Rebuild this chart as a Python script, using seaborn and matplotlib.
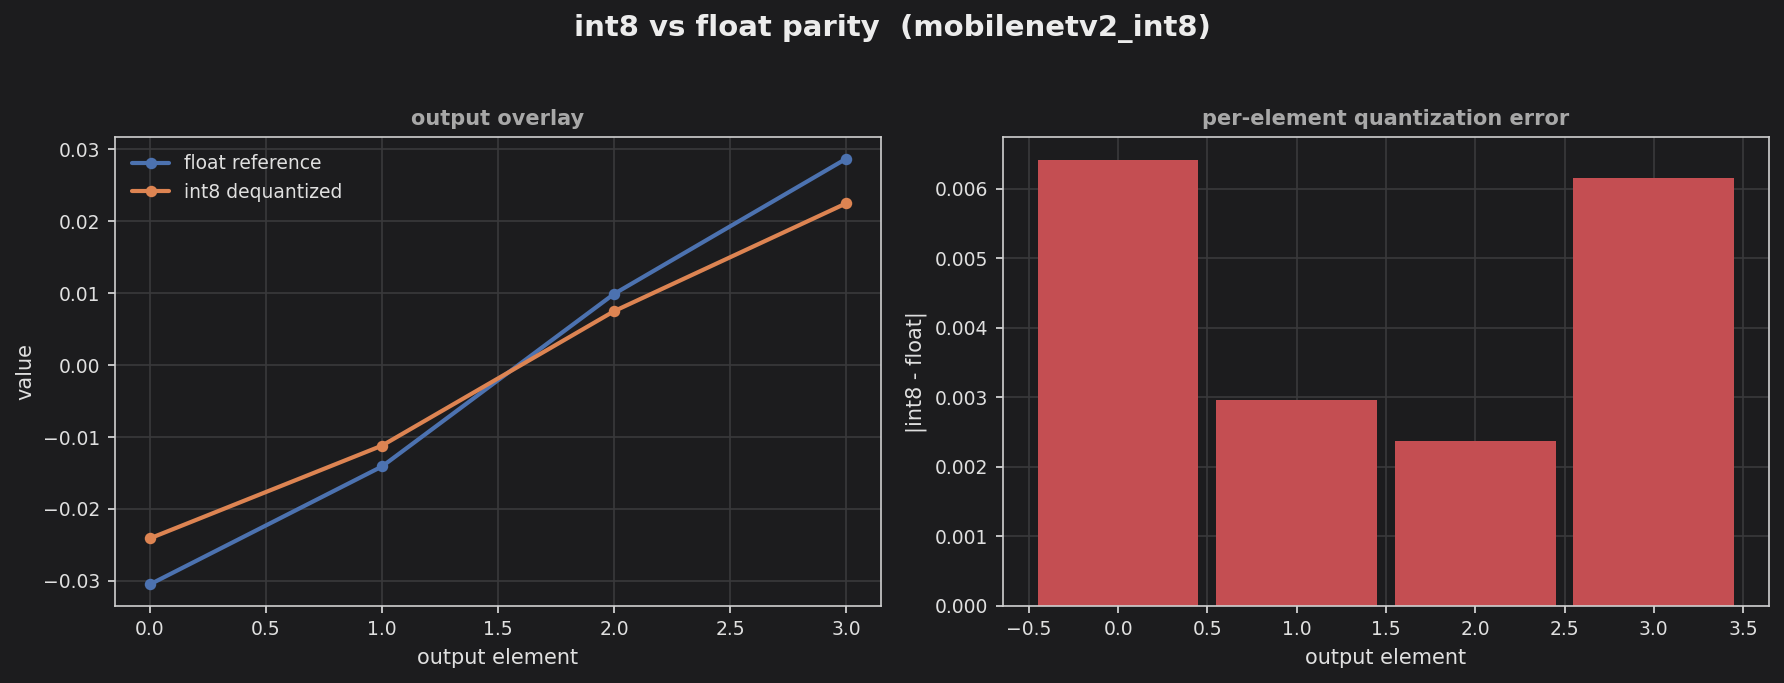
import numpy as np
import pandas as pd
import matplotlib
matplotlib.use("Agg")
import matplotlib.pyplot as plt
import seaborn as sns

elements = [0, 1, 2, 3]
float_ref = [-0.0305, -0.0141, 0.0099, 0.0287]
int8_deq = [-0.0241, -0.0112, 0.0075, 0.0225]
abs_err = [0.00642, 0.00296, 0.00237, 0.00616]

BG = "#1c1c1e"
FG = "#e0e0e0"
GRID = "#3a3a3c"
DPI = 150

sns.set_theme(style="darkgrid")
plt.rcParams.update({
    "figure.facecolor": BG,
    "axes.facecolor": BG,
    "axes.edgecolor": "#d0d0d0",
    "axes.labelcolor": FG,
    "xtick.color": FG,
    "ytick.color": FG,
    "text.color": FG,
    "grid.color": GRID,
    "grid.linewidth": 0.8,
    "axes.grid": True,
    "xtick.bottom": True,
    "ytick.left": True,
    "axes.linewidth": 0.8,
    "font.size": 9,
})
plt.rcParams['font.family'] = ['DejaVu Sans']

fig = plt.figure(figsize=(1784 / DPI, 683 / DPI), dpi=DPI)
ax1 = fig.add_axes([0.0645, 0.1132, 0.4293, 0.6855])
ax2 = fig.add_axes([0.5622, 0.1132, 0.4294, 0.6855])

df = pd.DataFrame({
    "element": elements * 2,
    "value": float_ref + int8_deq,
    "series": ["float reference"] * 4 + ["int8 dequantized"] * 4,
})
sns.lineplot(data=df, x="element", y="value", hue="series",
             palette=["#4c72b0", "#dd8452"], marker="o", markersize=5.5,
             markeredgewidth=0, linewidth=2.0, ax=ax1)
ax1.set_title("output overlay", color="#a8a8a8", fontweight="bold", fontsize=10)
ax1.set_xlabel("output element", fontsize=10)
ax1.set_ylabel("value", fontsize=10)
ax1.set_xticks([0, 0.5, 1.0, 1.5, 2.0, 2.5, 3.0])
ax1.legend(loc="upper left", frameon=False, fontsize=9, labelcolor=FG)

edf = pd.DataFrame({"element": elements, "err": abs_err})
sns.barplot(data=edf, x="element", y="err", native_scale=True, width=0.9,
            color="#c44e52", saturation=1, linewidth=0, edgecolor="none", ax=ax2)
ax2.set_xlim(-0.645, 3.645)
ax2.set_xticks([-0.5, 0, 0.5, 1.0, 1.5, 2.0, 2.5, 3.0, 3.5])
ax2.set_title("per-element quantization error", color="#a8a8a8", fontweight="bold", fontsize=10)
ax2.set_xlabel("output element", fontsize=10)
ax2.set_ylabel("|int8 - float|", fontsize=10)

for ax in (ax1, ax2):
    ax.tick_params(length=3.5, width=0.8, colors=FG, labelsize=9)
    for s in ax.spines.values():
        s.set_color("#d0d0d0")
    ax.set_axisbelow(True)

fig.suptitle("int8 vs float parity  (mobilenetv2_int8)", fontsize=14,
             fontweight="bold", color="#ececec", y=0.98)

fig.savefig("out.png", dpi=DPI, facecolor=BG)
